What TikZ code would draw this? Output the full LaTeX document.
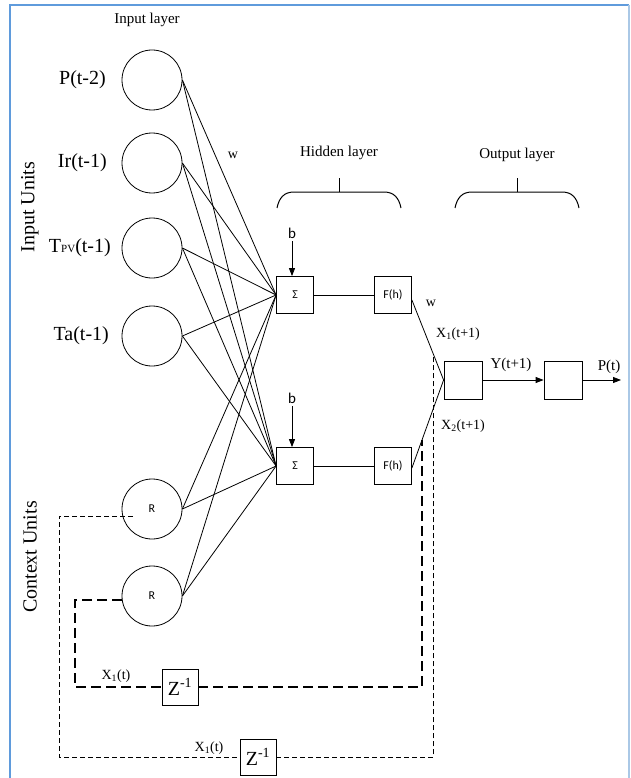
\documentclass[tikz,border=0pt]{standalone}
\usepackage{fontspec}
\setmainfont{Liberation Serif}
\newfontfamily\sansf{Carlito}
\usetikzlibrary{arrows.meta,calc}
\definecolor{framebl}{RGB}{95,155,220}
\definecolor{framebl2}{RGB}{170,200,230}
\begin{document}
\begin{tikzpicture}[x=1pt,y=-1pt,
  neuron/.style={draw, circle, minimum size=60pt, inner sep=0pt, line width=0.8pt},
  unitbox/.style={draw, minimum size=37pt, inner sep=0pt, line width=0.8pt, font=\sansf\fontsize{12}{12}\selectfont},
  zbox/.style={draw, minimum size=36pt, inner sep=0pt, line width=0.8pt, font=\fontsize{20}{20}\selectfont},
  inlbl/.style={anchor=east, font=\fontsize{20}{20}\selectfont, inner sep=0pt},
  laylbl/.style={font=\fontsize{15}{15}\selectfont, inner sep=0pt},
  unitlbl/.style={rotate=90, font=\fontsize{20}{20}\selectfont, inner sep=0pt},
  smlbl/.style={font=\fontsize{14}{14}\selectfont, inner sep=0pt},
  blbl/.style={font=\sansf\fontsize{15}{15}\selectfont, inner sep=0pt},
  wire/.style={line width=0.8pt},
  arr/.style={line width=0.8pt, -{Triangle[length=8pt,width=6pt]}},
  thindash/.style={line width=0.8pt, dash pattern=on 5pt off 3pt},
  thickdash/.style={line width=1.4pt, dash pattern=on 10pt off 5pt},
  brace/.style={line width=1pt}
]
\useasboundingbox (0,0) rectangle (630,778);
% frame
\draw[framebl, line width=2pt] (10,778) -- (10,5.5) -- (629,5.5);
\draw[framebl2, line width=1.2pt] (629,5.5) -- (629,778);

% input neurons
\node[neuron] (n1) at (152,80) {};
\node[neuron] (n2) at (152,163) {};
\node[neuron] (n3) at (152,248) {};
\node[neuron] (n4) at (152,336) {};
\node[neuron, font=\sansf\fontsize{12}{12}\selectfont] (r1) at (152,509) {R};
\node[neuron, font=\sansf\fontsize{12}{12}\selectfont] (r2) at (152,596) {R};

\node[inlbl] (l1) at (106,80) {P(t-2)};
\node[inlbl] (l2) at (107,163) {Ir(t-1)};
\node[inlbl] (l3) at (111,248) {T{\fontsize{11}{11}\selectfont PV}(t-1)};
\node[inlbl] (l4) at (109,336) {Ta(t-1)};

\node[laylbl] (il) at (147,20) {Input layer};
\node[laylbl] (hl) at (339,153) {Hidden layer};
\node[laylbl] (ol) at (517,155) {Output layer};

\node[unitlbl] (iu) at (30,207) {Input Units};
\node[unitlbl] (cu) at (30,557) {Context Units};

% hidden units
\node[unitbox] (s1) at (295,295) {Σ};
\node[unitbox] (s2) at (295,466) {Σ};
\node[unitbox] (f1) at (393,295) {F(h)};
\node[unitbox] (f2) at (393,466) {F(h)};

\node[blbl] (b1) at (292,233) {b};
\node[blbl] (b2) at (292,398) {b};
\draw[arr] (b1.south) ++(0,3) -- (s1.north -| b1.south);
\draw[arr] (b2.south) ++(0,3) -- (s2.north -| b2.south);

% output units
\node[unitbox, minimum size=38pt] (o1) at (463,380) {};
\node[unitbox, minimum size=38pt] (o2) at (563,380) {};
\coordinate (pend) at (621,380);
\draw[arr] (o1.east) -- (o2.west);
\draw[arr] (o2.east) -- (pend);

\node[smlbl, font=\fontsize{15}{15}\selectfont] (ylab) at (511,365) {Y(t+1)};
\node[smlbl, font=\fontsize{15}{15}\selectfont] (plab) at (609,367) {P(t)};

% connections input -> hidden
\foreach \n in {n1,n2,n3,n4,r1,r2}{
  \draw[wire] (\n.east) -- (s1.west);
  \draw[wire] (\n.east) -- (s2.west);
}
\draw[wire] (s1.east) -- (f1.west);
\draw[wire] (s2.east) -- (f2.west);
\coordinate (f1o) at ($(f1.east)+(0,5)$);
\coordinate (f2o) at ($(f2.east)+(0,2)$);
\draw[wire] (f1o) -- (o1.west);
\draw[wire] (f2o) -- (o1.west);

\node[smlbl] (w1) at (233,155) {w};
\node[smlbl] (w2) at (431,303) {w};
\node[smlbl] (x1p) at (458,334) {X\textsubscript{1}(t+1)};
\node[smlbl] (x2p) at (463,426) {X\textsubscript{2}(t+1)};

% braces
\draw[brace] (277,208) .. controls (279,198) and (284,192) .. (294,192) -- (384,192) .. controls (394,192) and (399,198) .. (401,208);
\draw[brace] (339,192) -- (339,178);
\draw[brace] (455,208) .. controls (457,198) and (462,192) .. (472,192) -- (562,192) .. controls (572,192) and (577,198) .. (579,208);
\draw[brace] (517,192) -- (517,178);

% delay boxes
\node[zbox] (z1) at (180,687) {Z\textsuperscript{-1}};
\node[zbox] (z2) at (258,757) {Z\textsuperscript{-1}};
\node[smlbl] (x1a) at (116,676) {X\textsubscript{1}(t)};
\node[smlbl] (x1b) at (209,748) {X\textsubscript{1}(t)};

% taps
\path (f1o) -- (o1.west) coordinate[pos=0.69] (tap1);
\path (f2o) -- (o1.west) coordinate[pos=0.32] (tap2);

% outer feedback loop (thin dashes)
\coordinate (c1) at (133,516);
\draw[thindash] (c1) -- (59,516) -- (59,757) -- (z2.west);
\draw[thindash] (z2.east) -- (tap1 |- z2.east) -- (tap1);

% inner feedback loop (thick dashes)
\coordinate (c2) at (122,600);
\draw[thickdash] (c2) -- (75,600) -- (75,687) -- (z1.west);
\draw[thickdash] (z1.east) -- (tap2 |- z1.east) -- (tap2);
\end{tikzpicture}
\end{document}
